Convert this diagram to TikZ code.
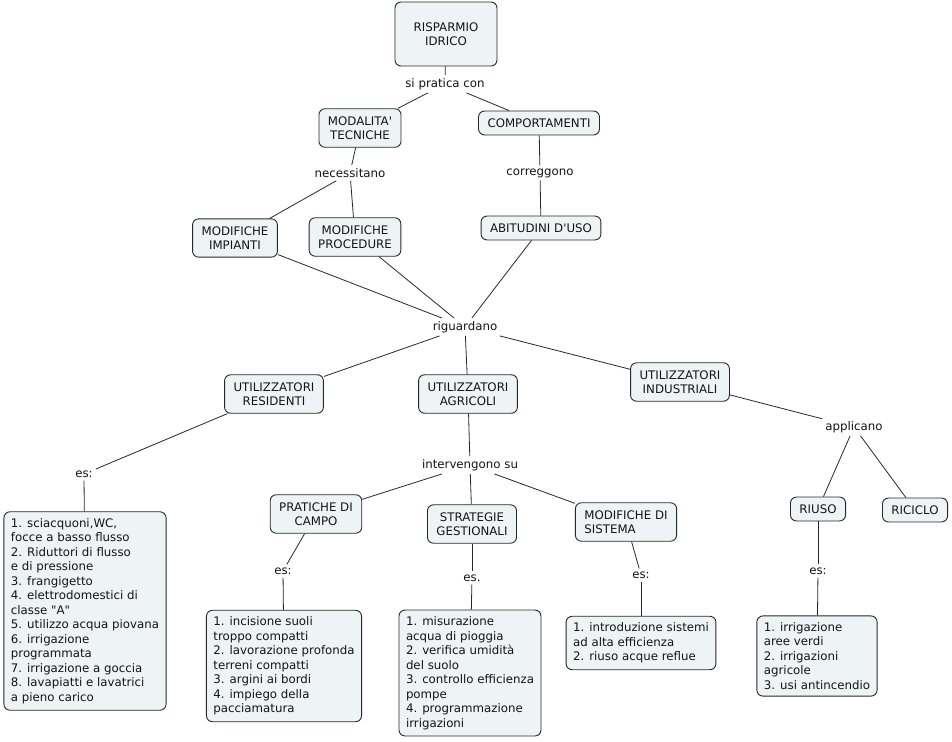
\documentclass[tikz,border=0pt]{standalone}
\usepackage{fontspec}
\newfontfamily\cmfont{DejaVu Sans}
\usepackage{tikz}
\usetikzlibrary{shapes}
\usepackage{xcolor}
\definecolor{cmfill}{RGB}{238,244,245}
\definecolor{cmline}{RGB}{40,40,40}
\definecolor{cmtext}{RGB}{20,20,20}
\tikzstyle{concept} = [rectangle, rounded corners=6pt, draw=cmline, fill=cmfill, line width=0.9pt, inner xsep=9pt, inner ysep=7.5pt, align=center, text=cmtext, font=\cmfont\fontsize{11.8}{14.5}\selectfont]
\tikzstyle{esempi} = [concept, align=left, inner xsep=7pt, inner ysep=6.5pt]
\tikzstyle{linkword} = [inner sep=3pt, text=cmtext, font=\cmfont\fontsize{11.8}{14.5}\selectfont]
\tikzstyle{link} = [line width=0.8pt, color=cmline]

\begin{document}
\begin{tikzpicture}[x=1pt, y=-1pt]
\useasboundingbox (0,0) rectangle (952,741);

% Top of the map
\node (ris) [concept, minimum width=102, minimum height=64] at (446,34) {RISPARMIO\\IDRICO};
\node (lprat) [linkword] at (445,84) {si pratica con};
\node (moda) [concept] at (360,128) {MODALITA'\\TECNICHE};
\node (comp) [concept] at (539,123) {COMPORTAMENTI};

\node (lnec) [linkword] at (350,173) {necessitano};
\node (lcorr) [linkword] at (540,173) {correggono};
\node (modimp) [concept] at (235,238) {MODIFICHE\\IMPIANTI};
\node (modproc) [concept] at (355,237) {MODIFICHE\\PROCEDURE};
\node (abit) [concept] at (541,228) {ABITUDINI D'USO};

% Users
\node (lrig) [linkword] at (465,327) {riguardano};
\node (utres) [concept] at (274,394) {UTILIZZATORI\\RESIDENTI};
\node (utagr) [concept] at (468,394) {UTILIZZATORI\\AGRICOLI};
\node (utind) [concept] at (680,382) {UTILIZZATORI\\INDUSTRIALI};

% Residents
\node (les1) [linkword] at (84,474) {es:};
\node (lista1) [esempi] at (85,611) {1. sciacquoni,WC,\\focce a basso flusso\\2. Riduttori di flusso\\e di pressione\\3. frangigetto\\4. elettrodomestici di\\classe "A"\\5. utilizzo acqua piovana\\6. irrigazione\\programmata\\7. irrigazione a goccia\\8. lavapiatti e lavatrici\\a pieno carico};

% Agriculture
\node (linterv) [linkword] at (470,465) {intervengono su};
\node (prat) [concept] at (316,514) {PRATICHE DI\\CAMPO};
\node (strat) [concept] at (472,524) {STRATEGIE\\GESTIONALI};
\node (modsis) [concept, align=left] at (626,522) {MODIFICHE DI\\SISTEMA};
\node (les2) [linkword] at (283,571) {es:};
\node (les3) [linkword] at (472,578) {es.};
\node (les4) [linkword] at (641,575) {es:};
\node (lista2) [esempi] at (284,666) {1. incisione suoli\\troppo compatti\\2. lavorazione profonda\\terreni compatti\\3. argini ai bordi\\4. impiego della\\pacciamatura};
\node (lista3) [esempi] at (470,673) {1. misurazione\\acqua di pioggia\\2. verifica umidità\\del suolo\\3. controllo efficienza\\pompe\\4. programmazione\\irrigazioni};
\node (lista4) [esempi] at (641,643) {1. introduzione sistemi\\ad alta efficienza\\2. riuso acque reflue};

% Industry
\node (lappl) [linkword] at (854,427) {applicano};
\node (riuso) [concept] at (818,509) {RIUSO};
\node (riciclo) [concept] at (915,510) {RICICLO};
\node (les5) [linkword] at (818,571) {es:};
\node (lista5) [esempi] at (817,656) {1. irrigazione\\aree verdi\\2. irrigazioni\\agricole\\3. usi antincendio};

% Connections
\draw [link] (ris) -- (lprat);
\draw [link] (lprat) -- (moda);
\draw [link] (lprat) -- (comp);
\draw [link] (moda) -- (lnec);
\draw [link] (lnec) -- (modimp);
\draw [link] (lnec) -- (modproc);
\draw [link] (comp) -- (lcorr);
\draw [link] (lcorr) -- (abit);
\draw [link] (modimp) -- (lrig);
\draw [link] (modproc) -- (lrig);
\draw [link] (abit) -- (lrig);
\draw [link] (lrig) -- (utres);
\draw [link] (lrig) -- (utagr);
\draw [link] (lrig) -- (utind);
\draw [link] (utres) -- (les1);
\draw [link] (les1) -- (lista1);
\draw [link] (utagr) -- (linterv);
\draw [link] (linterv) -- (prat);
\draw [link] (linterv) -- (strat);
\draw [link] (linterv) -- (modsis);
\draw [link] (prat) -- (les2);
\draw [link] (les2) -- (lista2);
\draw [link] (strat) -- (les3);
\draw [link] (les3) -- (lista3);
\draw [link] (modsis) -- (les4);
\draw [link] (les4) -- (lista4);
\draw [link] (utind) -- (lappl);
\draw [link] (lappl) -- (riuso);
\draw [link] (lappl) -- (riciclo);
\draw [link] (riuso) -- (les5);
\draw [link] (les5) -- (lista5);
\end{tikzpicture}
\end{document}
